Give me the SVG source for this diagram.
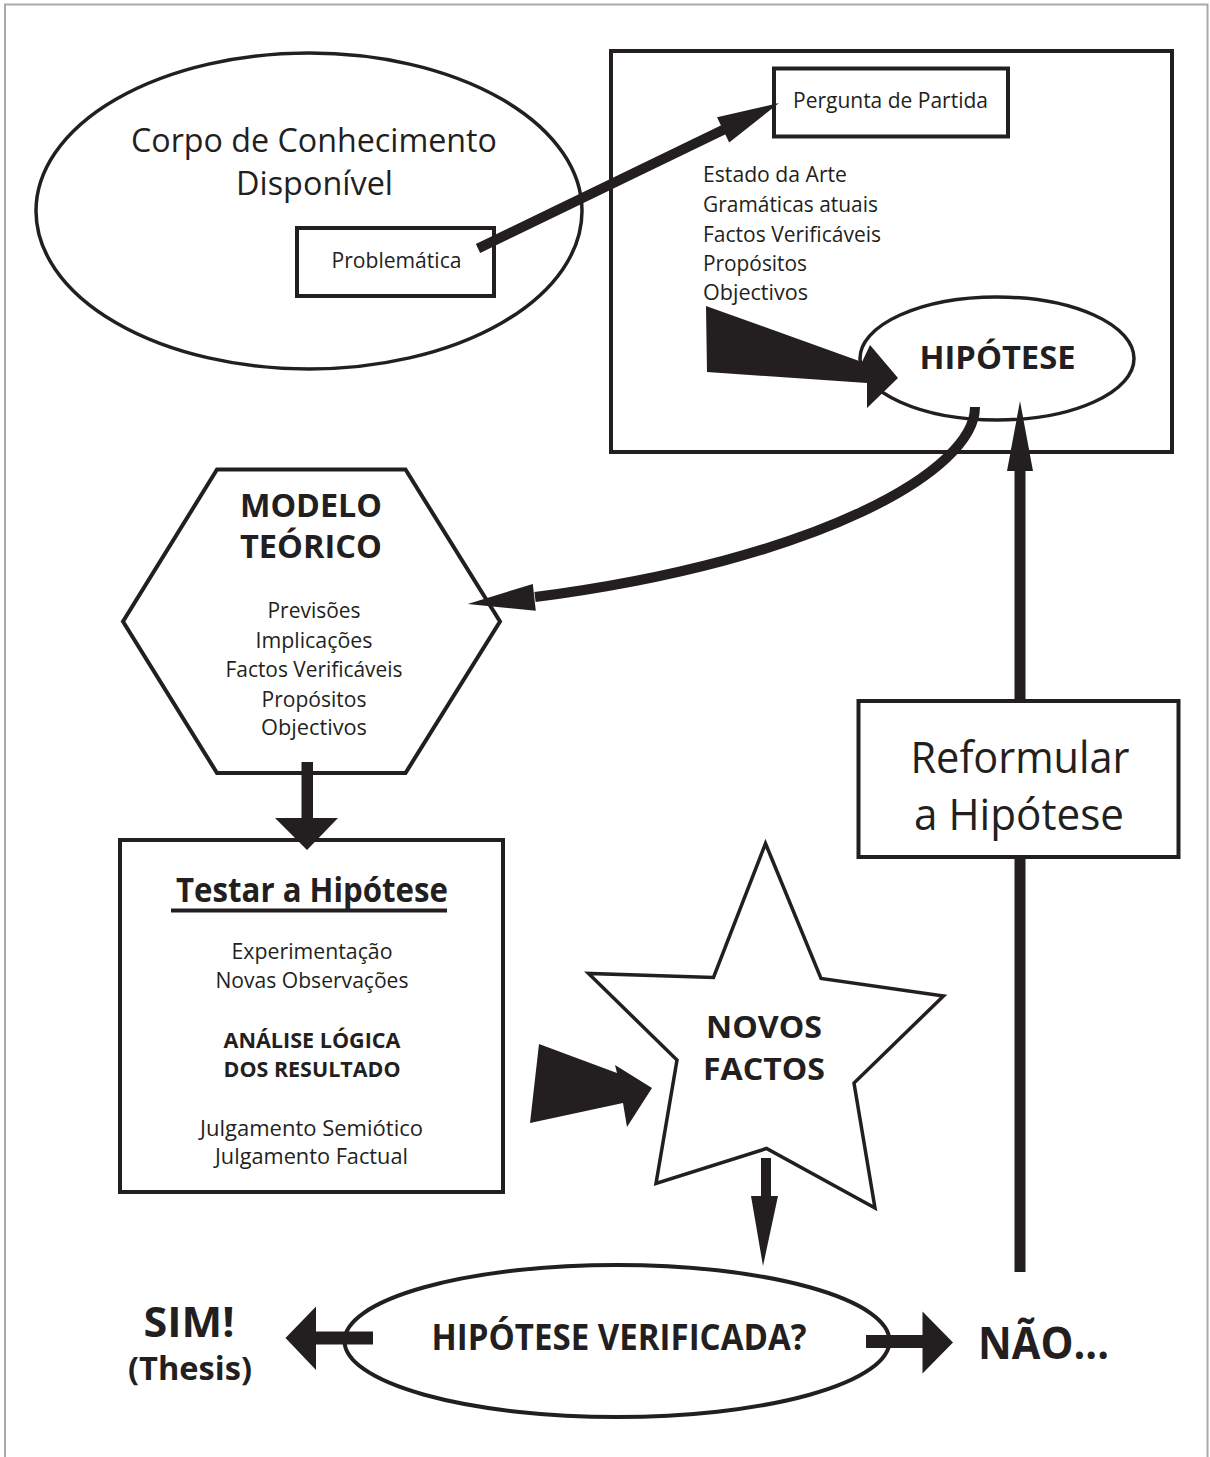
<svg xmlns="http://www.w3.org/2000/svg" width="1210" height="1457" viewBox="0 0 1210 1457">
  <style>
    .t { font-family: "Open Sans", "Liberation Sans", sans-serif; fill: #231f20; }
    .b { font-weight: 700; }
    .m { text-anchor: middle; }
    .shape { fill: #ffffff; stroke: #231f20; stroke-width: 4; }
    .thin { fill: #ffffff; stroke: #231f20; stroke-width: 3.5; }
    .ink { fill: #231f20; stroke: none; }
    .bar { fill: none; stroke: #231f20; stroke-linecap: butt; }
  </style>

  <rect width="1210" height="1457" fill="#ffffff"/>
  <!-- page frame -->
  <rect x="5" y="4.5" width="1202.5" height="1470" fill="none" stroke="#a7a9ac" stroke-width="2"/>

  <!-- body of knowledge -->
  <g id="corpo">
    <ellipse class="thin" cx="309" cy="211" rx="273" ry="158"/>
    <text class="t m" x="314" y="152" font-size="33" textLength="366" lengthAdjust="spacingAndGlyphs">Corpo de Conhecimento</text>
    <text class="t m" x="314.5" y="195" font-size="33" textLength="157" lengthAdjust="spacingAndGlyphs">Disponível</text>
  </g>

  <g id="problematica">
    <rect class="shape" x="297" y="228" width="197" height="68"/>
    <text class="t m" x="396.5" y="268" font-size="22" textLength="130" lengthAdjust="spacingAndGlyphs">Problemática</text>
  </g>

  <!-- research frame -->
  <g id="enquadramento">
    <rect class="shape" x="611" y="51" width="561" height="401"/>
    <text class="t" x="703" y="182" font-size="21" textLength="144" lengthAdjust="spacingAndGlyphs">Estado da Arte</text>
    <text class="t" x="703" y="212" font-size="21" textLength="175" lengthAdjust="spacingAndGlyphs">Gramáticas atuais</text>
    <text class="t" x="703" y="242" font-size="21" textLength="178" lengthAdjust="spacingAndGlyphs">Factos Verificáveis</text>
    <text class="t" x="703" y="271" font-size="21" textLength="104" lengthAdjust="spacingAndGlyphs">Propósitos</text>
    <text class="t" x="703" y="300" font-size="21" textLength="105" lengthAdjust="spacingAndGlyphs">Objectivos</text>
  </g>

  <g id="pergunta">
    <rect class="shape" x="774" y="68.5" width="234" height="68"/>
    <text class="t" x="793" y="108" font-size="21.5" textLength="195" lengthAdjust="spacingAndGlyphs">Pergunta de Partida</text>
  </g>

  <g id="hipotese">
    <ellipse class="thin" cx="997" cy="358.5" rx="137" ry="61.5"/>
    <text class="t b m" x="997.5" y="369" font-size="32" textLength="156" lengthAdjust="spacingAndGlyphs">HIPÓTESE</text>
  </g>

  <g id="modelo">
    <polygon class="shape" points="217,469.5 405.5,469.5 500,621.5 405.5,773 217,773 123,621.5"/>
    <text class="t b m" x="311" y="517" font-size="32" textLength="142" lengthAdjust="spacingAndGlyphs">MODELO</text>
    <text class="t b m" x="311" y="558" font-size="32" textLength="142" lengthAdjust="spacingAndGlyphs">TEÓRICO</text>
    <text class="t m" x="314" y="618" font-size="21" textLength="93" lengthAdjust="spacingAndGlyphs">Previsões</text>
    <text class="t m" x="314" y="648" font-size="21" textLength="117" lengthAdjust="spacingAndGlyphs">Implicações</text>
    <text class="t m" x="314" y="677" font-size="21" textLength="177" lengthAdjust="spacingAndGlyphs">Factos Verificáveis</text>
    <text class="t m" x="314" y="707" font-size="21" textLength="105" lengthAdjust="spacingAndGlyphs">Propósitos</text>
    <text class="t m" x="314" y="735" font-size="21" textLength="106" lengthAdjust="spacingAndGlyphs">Objectivos</text>
  </g>

  <g id="testar">
    <rect class="shape" x="120" y="840" width="383" height="352"/>
    <text class="t b m" x="312" y="901.5" font-size="34" textLength="272" lengthAdjust="spacingAndGlyphs">Testar a Hipótese</text>
    <line x1="171" y1="910.5" x2="447" y2="910.5" stroke="#231f20" stroke-width="4"/>
    <text class="t m" x="312" y="959" font-size="21" textLength="161" lengthAdjust="spacingAndGlyphs">Experimentação</text>
    <text class="t m" x="312" y="988" font-size="21" textLength="193" lengthAdjust="spacingAndGlyphs">Novas Observações</text>
    <text class="t b m" x="312" y="1048" font-size="20.5" textLength="177" lengthAdjust="spacingAndGlyphs">ANÁLISE LÓGICA</text>
    <text class="t b m" x="312" y="1077" font-size="20.5" textLength="177" lengthAdjust="spacingAndGlyphs">DOS RESULTADO</text>
    <text class="t m" x="311.5" y="1136" font-size="21" textLength="223" lengthAdjust="spacingAndGlyphs">Julgamento Semiótico</text>
    <text class="t m" x="311.5" y="1164" font-size="21" textLength="193" lengthAdjust="spacingAndGlyphs">Julgamento Factual</text>
  </g>

  <g id="novos-factos">
    <polygon class="thin" points="765.5,843.5 821,978.5 943.5,996 854,1083 875,1208 766.5,1148.5 656,1183.5 677,1060 588.5,973.5 713.5,977.5"/>
    <text class="t b m" x="764" y="1038" font-size="31" textLength="116" lengthAdjust="spacingAndGlyphs">NOVOS</text>
    <text class="t b m" x="764" y="1080" font-size="31" textLength="122" lengthAdjust="spacingAndGlyphs">FACTOS</text>
  </g>

  <g id="reformular">
    <rect class="shape" x="858.5" y="701" width="320" height="156"/>
    <text class="t m" x="1020" y="773" font-size="43" textLength="219" lengthAdjust="spacingAndGlyphs">Reformular</text>
    <text class="t m" x="1019" y="830" font-size="43" textLength="210" lengthAdjust="spacingAndGlyphs">a Hipótese</text>
  </g>

  <g id="verificada">
    <ellipse class="shape" cx="617" cy="1341" rx="272.5" ry="76"/>
    <text class="t b m" x="619" y="1350" font-size="35" textLength="375" lengthAdjust="spacingAndGlyphs">HIPÓTESE VERIFICADA?</text>
  </g>

  <g id="sim">
    <text class="t b m" x="189" y="1337" font-size="42" textLength="91" lengthAdjust="spacingAndGlyphs">SIM!</text>
    <text class="t b m" x="190" y="1380" font-size="32" textLength="124" lengthAdjust="spacingAndGlyphs">(Thesis)</text>
  </g>

  <g id="nao">
    <text class="t b m" x="1043.5" y="1359" font-size="44" textLength="131" lengthAdjust="spacingAndGlyphs">NÃO...</text>
  </g>

  <!-- connectors -->
  <g id="connectors">
    <!-- Problemática to Pergunta de Partida -->
    <line class="bar" x1="478" y1="248.5" x2="726" y2="128.5" stroke-width="10"/>
    <polygon class="ink" points="779,103 729.2,142.5 717,117.3"/>

    <!-- tapered arrow into the hypothesis -->
    <polygon class="ink" points="706,306 862,362 870,345 898,378 867,408 867,383 707,372"/>

    <!-- hypothesis to theoretical model -->
    <path class="bar" d="M975,407 C975,470 820,560 535,597" stroke-width="10"/>
    <polygon class="ink" points="467.7,604 532.8,584 535.8,610.7"/>

    <!-- model to test -->
    <rect class="ink" x="301.5" y="762" width="11.5" height="58"/>
    <polygon class="ink" points="275,818 338,818 307,850"/>

    <!-- tapered arrow into new facts -->
    <polygon class="ink" points="539,1044 617,1073 615,1065 652,1088 627,1127 623,1103 530,1123"/>

    <!-- new facts to verification -->
    <rect class="ink" x="761" y="1158" width="10" height="40"/>
    <polygon class="ink" points="751,1196 778,1196 763,1266"/>

    <!-- verification outcomes -->
    <rect class="ink" x="314" y="1331.5" width="59" height="13"/>
    <polygon class="ink" points="285.5,1338 316,1306.5 316,1370"/>
    <rect class="ink" x="866" y="1335" width="59" height="13"/>
    <polygon class="ink" points="953,1342.5 922.5,1311.5 922.5,1373.5"/>

    <!-- reformulate loop back to the hypothesis -->
    <line class="bar" x1="1020" y1="1272" x2="1020" y2="857" stroke-width="11"/>
    <line class="bar" x1="1020" y1="701" x2="1020" y2="468" stroke-width="11"/>
    <polygon class="ink" points="1020,401 1033,471 1007,471"/>
  </g>
</svg>
